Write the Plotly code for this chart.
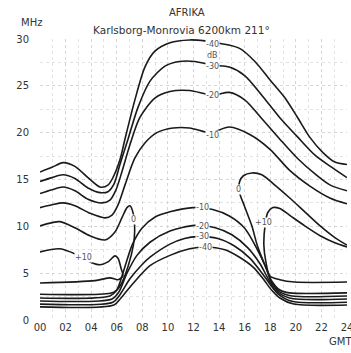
import plotly.graph_objects as go

# ---------------- data (hour GMT, MHz) ----------------
up40_h = [0, 0.94, 1.8, 2.73, 3.75, 4.69, 5.31, 5.7, 6.25, 6.64, 7.42, 8.2, 8.98, 10.16, 11.7, 12.9, 14.2, 15.6, 16.8, 18.0, 19.1, 20.1, 21.1, 22.1, 23.0, 24]
up40_f = [15.8, 16.3, 16.8, 16.4, 15.2, 14.2, 14.4, 15.2, 17.1, 19.3, 23.5, 27.0, 28.7, 29.6, 29.9, 29.8, 29.5, 29.0, 27.6, 25.6, 23.8, 21.7, 19.5, 17.9, 16.9, 16.6]

up30_h = [0, 0.94, 1.8, 2.73, 3.75, 4.69, 5.31, 5.78, 6.25, 6.88, 7.66, 8.6, 9.77, 10.9, 12.1, 13.5, 14.8, 16.0, 17.4, 18.75, 20.1, 21.5, 22.7, 24]
up30_f = [14.8, 15.2, 15.5, 15.1, 14.1, 13.6, 13.7, 14.5, 16.6, 19.3, 22.7, 25.5, 27.1, 27.6, 27.6, 27.2, 27.0, 26.1, 23.9, 21.6, 19.6, 17.6, 16.4, 15.2]

up20_h = [0, 0.94, 1.8, 2.73, 3.75, 4.84, 5.47, 5.94, 6.4, 7.03, 7.8, 8.98, 10.16, 11.7, 13.5, 14.8, 16.0, 17.4, 18.75, 20.1, 21.5, 22.7, 24]
up20_f = [13.5, 13.9, 14.2, 13.8, 12.9, 12.5, 12.8, 13.9, 15.8, 18.7, 21.6, 23.7, 24.4, 24.5, 24.0, 24.3, 23.5, 21.4, 19.3, 17.3, 15.6, 14.4, 13.8]

up10_h = [0, 0.94, 1.8, 2.73, 3.9, 5.08, 5.63, 6.1, 6.64, 7.42, 8.2, 9.14, 10.4, 11.7, 13.3, 14.8, 16.4, 18.0, 19.5, 21.1, 22.7, 24]
up10_f = [12.0, 12.3, 12.5, 12.2, 11.4, 10.9, 11.2, 12.3, 14.4, 17.3, 18.9, 20.0, 20.5, 20.5, 20.0, 20.6, 19.8, 18.2, 16.0, 14.3, 13.0, 12.4]

lo10_h = [0, 5.47, 6.0, 6.56, 7.2, 7.97, 9.0, 10.16, 11.95, 13.5, 14.8, 16.0, 17.0, 17.66, 18.1, 18.75, 19.7, 24]
lo10_f = [2.35, 2.57, 3.2, 5.35, 8.0, 9.8, 11.0, 11.55, 12.0, 11.8, 11.1, 9.8, 7.5, 5.6, 4.0, 3.0, 2.57, 2.57]

lo20_h = [0, 5.63, 6.17, 6.8, 7.58, 8.6, 10.16, 12.1, 13.7, 15.0, 16.25, 17.2, 17.8, 18.4, 19.5, 24]
lo20_f = [2.03, 2.25, 3.0, 5.0, 6.9, 8.3, 9.5, 10.1, 9.85, 9.1, 7.7, 6.0, 4.5, 3.2, 2.35, 2.25]

lo30_h = [0, 5.7, 6.25, 7.03, 7.97, 8.6, 10.16, 11.3, 12.3, 13.9, 15.2, 16.4, 17.3, 17.97, 18.6, 19.7, 24]
lo30_f = [1.7, 1.9, 2.7, 4.4, 5.9, 6.7, 8.1, 8.7, 8.9, 8.7, 7.9, 6.6, 5.1, 3.85, 2.8, 2.0, 1.9]

lo40_h = [0, 5.78, 6.33, 7.27, 8.6, 10.16, 11.7, 12.9, 14.45, 15.6, 16.7, 17.5, 18.1, 18.75, 19.84, 24]
lo40_f = [1.4, 1.6, 2.35, 3.9, 5.8, 6.9, 7.6, 7.8, 7.5, 6.7, 5.6, 4.3, 3.2, 2.35, 1.7, 1.6]

zeroL_h = [0, 0.94, 1.56, 2.73, 3.9, 5.08, 5.86, 6.4, 6.8, 7.03, 7.3, 7.4, 7.3, 6.9, 6.4, 6.0, 5.5, 0]
zeroL_f = [10.05, 10.4, 10.5, 9.85, 9.0, 8.55, 9.4, 10.9, 12.0, 12.2, 11.3, 9.5, 8.0, 5.8, 4.0, 3.2, 2.85, 2.75]

zeroR_h = [24, 19.5, 18.75, 18.1, 17.6, 17.0, 16.56, 16.0, 15.6, 15.6, 15.9, 16.56, 17.34, 18.36, 19.5, 20.7, 21.9, 23.05, 24]
zeroR_f = [2.9, 2.9, 3.2, 4.2, 5.8, 7.9, 10.05, 12.1, 13.6, 14.75, 15.4, 15.7, 15.5, 14.4, 13.05, 11.55, 10.05, 8.8, 8.0]

p10L_h = [0, 1.56, 2.9, 3.9, 4.69, 5.31, 5.86, 6.1, 6.33, 6.48, 6.1, 5.47, 4.3, 0]
p10L_f = [7.27, 7.6, 6.95, 6.2, 5.9, 6.2, 6.85, 6.6, 5.55, 4.7, 4.3, 4.5, 4.2, 3.95]

p10R_h = [24, 19.9, 18.75, 17.97, 17.66, 17.5, 17.6, 17.8, 18.2, 18.75, 19.5, 20.7, 21.9, 23.05, 24]
p10R_f = [4.05, 4.05, 4.3, 4.7, 6.2, 8.0, 10.15, 11.45, 12.0, 11.9, 11.2, 10.05, 9.0, 8.25, 7.8]

x_ticks = [0, 2, 4, 6, 8, 10, 12, 14, 16, 18, 20, 22, 24]
x_ticklabels = ["00", "02", "04", "06", "08", "10", "12", "14", "16", "18", "20", "22", "24"]
y_ticks = [0, 5, 10, 15, 20, 25, 30]

label_text = ["-40", "dB", "-30", "-20", "-10", "-10", "-20", "-30", "-40", "0", "+10", "0", "+10"]
label_h = [13.5, 13.5, 13.5, 13.5, 13.5, 12.7, 12.7, 12.7, 12.9, 7.3, 3.4, 15.5, 17.5]
label_f = [29.4, 28.2, 27.1, 23.95, 19.7, 12.0, 9.95, 8.9, 7.7, 10.7, 6.7, 13.9, 10.4]

# ---------------- figure ----------------
FONT = "DejaVu Sans"
fig = go.Figure()
curves = [(up40_h, up40_f), (up30_h, up30_f), (up20_h, up20_f), (up10_h, up10_f),
          (lo10_h, lo10_f), (lo20_h, lo20_f), (lo30_h, lo30_f), (lo40_h, lo40_f),
          (zeroL_h, zeroL_f), (zeroR_h, zeroR_f), (p10L_h, p10L_f), (p10R_h, p10R_f)]
for hx, fy in curves:
    fig.add_trace(go.Scatter(x=hx, y=fy, mode="lines",
                             line=dict(color="#1a1a1a", width=1.6, shape="spline", smoothing=0.8),
                             hoverinfo="skip", showlegend=False))

for t, hx, fy in zip(label_text, label_h, label_f):
    fig.add_annotation(x=hx, y=fy, text=t, showarrow=False,
                       font=dict(family=FONT, size=8, color="#555"),
                       bgcolor="white", borderpad=0)

txt = dict(family=FONT, size=10, color="#333")
paper_ann = dict(xref="paper", yref="paper", showarrow=False,
                 xanchor="center", yanchor="middle")
fig.add_annotation(x=0.479, y=1.096, text="AFRIKA", font=txt, **paper_ann)
fig.add_annotation(x=0.4625, y=1.032, text="Karlsborg-Monrovia 6200km 211°",
                   font=dict(family=FONT, size=10.5, color="#333"), **paper_ann)
fig.add_annotation(x=-0.029, y=1.057, text="MHz", font=txt, **paper_ann)
fig.add_annotation(x=0.98, y=-0.075, text="GMT", font=txt, **paper_ann)

fig.update_layout(
    width=351, height=353,
    margin=dict(l=40, r=4, t=39, b=33, autoexpand=False),
    paper_bgcolor="white", plot_bgcolor="white",
    font=dict(family=FONT, size=10, color="#333"),
    showlegend=False,
)
fig.update_xaxes(range=[0, 24], tickvals=x_ticks, ticktext=x_ticklabels,
                 showgrid=True, gridcolor="#d6d6d6", griddash="dot", gridwidth=1,
                 zeroline=False, showline=False, ticks="", ticklabeloverflow="allow",
                 automargin=False,
                 tickfont=dict(size=10, color="#333"), fixedrange=True,
                 minor=dict(tickvals=[1, 3, 5, 7, 9, 11, 13, 15, 17, 19, 21, 23], showgrid=True,
                            gridcolor="#e3e3e3", griddash="dot"))
fig.update_yaxes(range=[0, 30], tickvals=y_ticks,
                 showgrid=True, gridcolor="#d6d6d6", griddash="dot", gridwidth=1,
                 zeroline=False, showline=False, ticks="", ticklabelstandoff=10,
                 ticklabeloverflow="allow", automargin=False,
                 tickfont=dict(size=10, color="#333"), fixedrange=True,
                 minor=dict(tickvals=[2.5, 7.5, 12.5, 17.5, 22.5, 27.5], showgrid=True,
                            gridcolor="#e3e3e3", griddash="dot"))

fig.write_html("out.html", config={"displayModeBar": False},
               post_script="document.body.style.margin='0';document.body.style.overflow='hidden';")
